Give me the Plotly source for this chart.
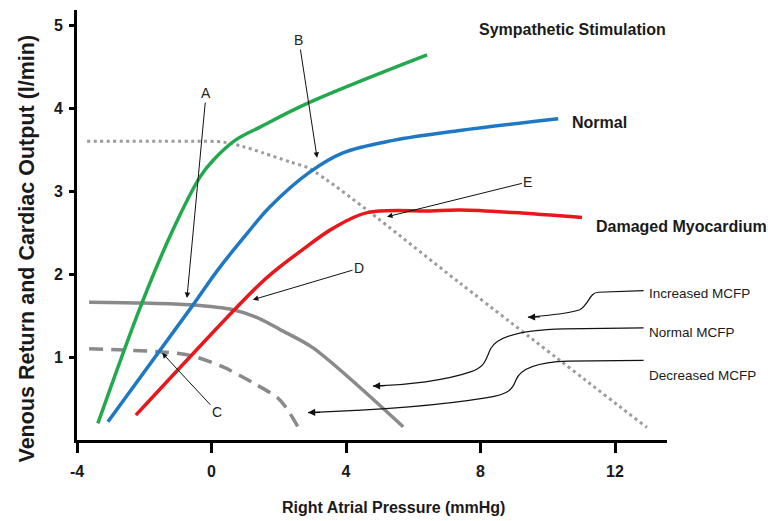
import plotly.graph_objects as go

# ---- data (right atrial pressure in mmHg, flow in l/min) ----
symp_x = [-3.38, -2.07, -1.15, -0.34, 0.05, 0.70, 1.44, 2.93, 6.41]
symp_y = [0.20, 1.65, 2.53, 3.17, 3.37, 3.61, 3.77, 4.07, 4.64]

normal_x = [-3.08, -0.58, 0.19, 1.06, 1.74, 2.93, 3.91, 5.40, 7.39, 10.31]
normal_y = [0.22, 1.61, 2.05, 2.49, 2.81, 3.23, 3.46, 3.61, 3.73, 3.87]

damaged_x = [-2.25, 0.61, 1.44, 1.83, 2.63, 3.61, 4.63, 6.50, 7.39, 8.97, 11.02]
damaged_y = [0.30, 1.54, 1.88, 2.02, 2.27, 2.55, 2.74, 2.76, 2.77, 2.74, 2.68]

inc_mcfp_x = [-3.70, -1.50, -0.30, 0.34, 0.90, 1.53, 2.34, 2.87, 3.44, 4.63, 7.39, 12.95]
inc_mcfp_y = [3.60, 3.60, 3.60, 3.59, 3.54, 3.46, 3.35, 3.28, 3.13, 2.77, 1.89, 0.15]

norm_mcfp_x = [-3.64, -2.00, -0.64, 0.64, 1.44, 2.04, 3.02, 5.70]
norm_mcfp_y = [1.66, 1.65, 1.63, 1.57, 1.46, 1.33, 1.11, 0.16]

dec_mcfp_x = [-3.64, -1.47, -0.64, 0.34, 1.23, 2.04, 2.57]
dec_mcfp_y = [1.10, 1.06, 1.02, 0.88, 0.69, 0.48, 0.16]

x_ticks = [-4, 0, 4, 8, 12]
y_ticks = [1, 2, 3, 4, 5]

x_title = "Right Atrial Pressure (mmHg)"
y_title = "Venous Return and Cardiac Output (l/min)"

# ---- styling ----
GREEN = "#22a94d"
BLUE = "#1f78c3"
RED = "#e8171c"
GRAY = "#8a8a8a"
DOTGRAY = "#9c9c9c"
FONT = "Liberation Sans, Arial, sans-serif"
NARROW = "Liberation Sans Narrow, Arial Narrow, Liberation Sans, sans-serif"

fig = go.Figure()

def add_line(x, y, color, width=3.5, dash="solid", name="", smoothing=1.0):
    fig.add_trace(go.Scatter(
        x=x, y=y, mode="lines", name=name,
        line=dict(color=color, width=width, dash=dash, shape="spline", smoothing=smoothing),
        hoverinfo="skip", showlegend=False, cliponaxis=False))

add_line(inc_mcfp_x, inc_mcfp_y, DOTGRAY, 3, "3px,3.5px", "Increased MCFP", 0.8)
add_line(norm_mcfp_x, norm_mcfp_y, GRAY, 3.5, "solid", "Normal MCFP", 0.8)
add_line(dec_mcfp_x, dec_mcfp_y, GRAY, 3.5, "14px,8px", "Decreased MCFP", 0.8)
add_line(symp_x, symp_y, GREEN, 3.5, "solid", "Sympathetic Stimulation")
add_line(normal_x, normal_y, BLUE, 3.5, "solid", "Normal")
add_line(damaged_x, damaged_y, RED, 3.5, "solid", "Damaged Myocardium")

annotations = []

# letter call-outs: (letter, text position, arrow head)
callouts = [
    ("A", (-0.16, 4.18), (-0.73, 1.71)),
    ("B", (2.60, 4.82), (3.14, 3.40)),
    ("C", (0.16, 0.34), (-1.47, 1.05)),
    ("D", (4.39, 2.07), (1.23, 1.69)),
    ("E", (9.41, 3.11), (5.22, 2.69)),
]
for letter, (tx, ty), (hx, hy) in callouts:
    annotations.append(dict(
        x=hx, y=hy, ax=tx, ay=ty, xref="x", yref="y", axref="x", ayref="y",
        text=letter, showarrow=True, arrowhead=2, arrowsize=1.1, arrowwidth=1,
        arrowcolor="#111", font=dict(family=NARROW, size=14, color="#222")))

# curve labels
def label(text, x, y, size, bold=True, family=FONT):
    annotations.append(dict(
        x=x, y=y, xref="x", yref="y", text=f"<b>{text}</b>" if bold else text,
        showarrow=False, xanchor="left", yanchor="middle",
        font=dict(family=family, size=size, color="#1a1a1a")))

label("Sympathetic Stimulation", 7.90, 4.95, 16)
label("Normal", 10.66, 3.83, 16)
label("Damaged Myocardium", 11.38, 2.57, 16)
label("Increased MCFP", 12.95, 1.77, 13.5, bold=False, family=NARROW)
label("Normal MCFP", 12.95, 1.29, 13.5, bold=False, family=NARROW)
label("Decreased MCFP", 12.95, 0.78, 13.5, bold=False, family=NARROW)

# leader curves from the MCFP labels
leaders = [
    ("M 12.85,1.80 L 11.50,1.78 C 11.25,1.78 11.20,1.62 10.95,1.57 C 10.60,1.52 10.00,1.50 9.41,1.48",
     (9.41, 1.48)),
    ("M 12.85,1.35 L 10.50,1.34 C 9.20,1.33 8.50,1.25 8.30,1.10 C 8.15,0.97 8.15,0.88 7.70,0.82 C 7.00,0.72 5.80,0.66 4.80,0.65",
     (4.80, 0.65)),
    ("M 12.85,0.96 L 10.60,0.95 C 9.80,0.94 9.20,0.88 9.05,0.72 C 8.95,0.60 8.80,0.55 8.20,0.51 C 7.00,0.43 5.00,0.36 2.87,0.33",
     (2.87, 0.33)),
]
shapes = []
for path, (tx, ty) in leaders:
    shapes.append(dict(type="path", path=path, xref="x", yref="y",
                       line=dict(color="#111", width=1.2)))
    annotations.append(dict(x=tx, y=ty, ax=tx + 0.4, ay=ty + 0.004, xref="x", yref="y",
                            axref="x", ayref="y", text="", showarrow=True,
                            arrowhead=2, arrowsize=1.2, arrowwidth=1.2, arrowcolor="#111"))

# axis titles
annotations.append(dict(x=0.536, y=-0.158, xref="paper", yref="paper", text=f"<b>{x_title}</b>",
                        showarrow=False, xanchor="center", yanchor="middle",
                        font=dict(family=FONT, size=16, color="#1a1a1a")))
annotations.append(dict(x=-0.085, y=0.445, xref="paper", yref="paper", text=f"<b>{y_title}</b>",
                        showarrow=False, xanchor="center", yanchor="middle", textangle=-90,
                        font=dict(family=FONT, size=21.5, color="#1a1a1a")))

fig.update_layout(
    width=768, height=521,
    margin=dict(l=77, r=101, t=10, b=81),
    paper_bgcolor="white", plot_bgcolor="white",
    annotations=annotations, shapes=shapes,
    showlegend=False,
)
fig.update_xaxes(range=[-4, 13.546], tickvals=x_ticks,
                 ticktext=[f"<b>{v}</b>" for v in x_ticks],
                 showgrid=False, zeroline=False,
                 showline=True, linecolor="black", linewidth=3, ticks="outside",
                 ticklen=10, tickwidth=3, tickcolor="black", ticklabelstandoff=5,
                 tickfont=dict(family=FONT, size=16, color="#1a1a1a"))
fig.update_yaxes(range=[0, 5.181], tickvals=y_ticks,
                 ticktext=[f"<b>{v}</b>" for v in y_ticks],
                 showgrid=False, zeroline=False,
                 showline=True, linecolor="black", linewidth=3, ticks="outside",
                 ticklen=5, tickwidth=2.5, tickcolor="black", ticklabelstandoff=3,
                 tickfont=dict(family=FONT, size=16, color="#1a1a1a"))

fig.write_html("out.html", config={"displayModeBar": False},
               post_script="document.body.style.margin='0';")
